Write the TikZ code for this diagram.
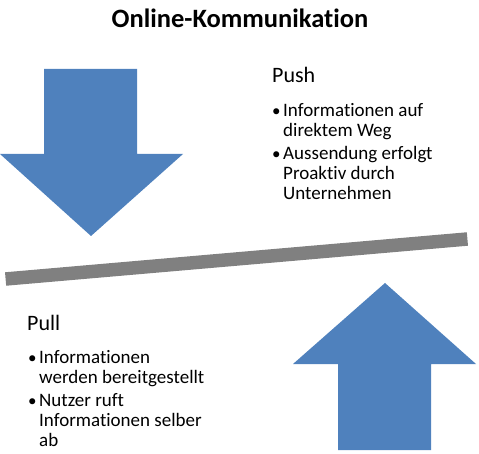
\documentclass[tikz,border=0pt]{standalone}
\usepackage{fontspec}
\setmainfont{Carlito}[Ligatures=NoCommon]
\definecolor{arrowblue}{HTML}{4F81BD}
\definecolor{bargray}{HTML}{808080}
\newcommand{\linesbox}[1]{\parbox[t]{220pt}{\raggedright #1}}
\tikzset{
  bigarrow/.style={fill=arrowblue, draw=none},
  heading/.style={anchor=base west, inner sep=0pt, font=\fontsize{22}{26}\selectfont},
  bullettext/.style={anchor=base west, inner sep=0pt, font=\fontsize{19}{20}\selectfont},
  bulletdot/.style={anchor=base west, inner sep=0pt, font=\fontsize{17}{20}\selectfont},
}
\begin{document}
\begin{tikzpicture}[x=1pt,y=-1pt]
\useasboundingbox (0,0) rectangle (479,454);
% title
\node[anchor=base, inner sep=0pt, font=\fontsize{26.5}{30}\selectfont\bfseries] (title) at (240,28) {Online-Kommunikation};
% down arrow
\fill[bigarrow] (44,69) -- (137,69) -- (137,154) -- (183,154) -- (91,236) -- (0,154) -- (44,154) -- cycle;
% up arrow
\fill[bigarrow] (338,450) -- (431,450) -- (431,364) -- (476,364) -- (385,283) -- (293,364) -- (338,364) -- cycle;
% bar
\coordinate (barL) at (5.6,279);
\coordinate (barR) at (467.4,239);
\draw[bargray, line width=13.5pt] (barL) -- (barR);
% Push
\node[heading] (push) at (272,83) {Push};
\node[bulletdot] (pb1) at (272,117) {•};
\node[bullettext] (pt1) at (283,117) {\linesbox{Informationen auf\\direktem Weg}};
\node[bulletdot] (pb2) at (272,160) {•};
\node[bullettext] (pt2) at (283,160) {\linesbox{Aussendung erfolgt\\Proaktiv durch\\Unternehmen}};
% Pull
\node[heading] (pull) at (27,330) {Pull};
\node[bulletdot] (lb1) at (28,363) {•};
\node[bullettext] (lt1) at (39,363) {\linesbox{Informationen\\werden bereitgestellt}};
\node[bulletdot] (lb2) at (28,406) {•};
\node[bullettext] (lt2) at (39,406) {\linesbox{Nutzer ruft\\Informationen selber\\ab}};
\end{tikzpicture}
\end{document}
